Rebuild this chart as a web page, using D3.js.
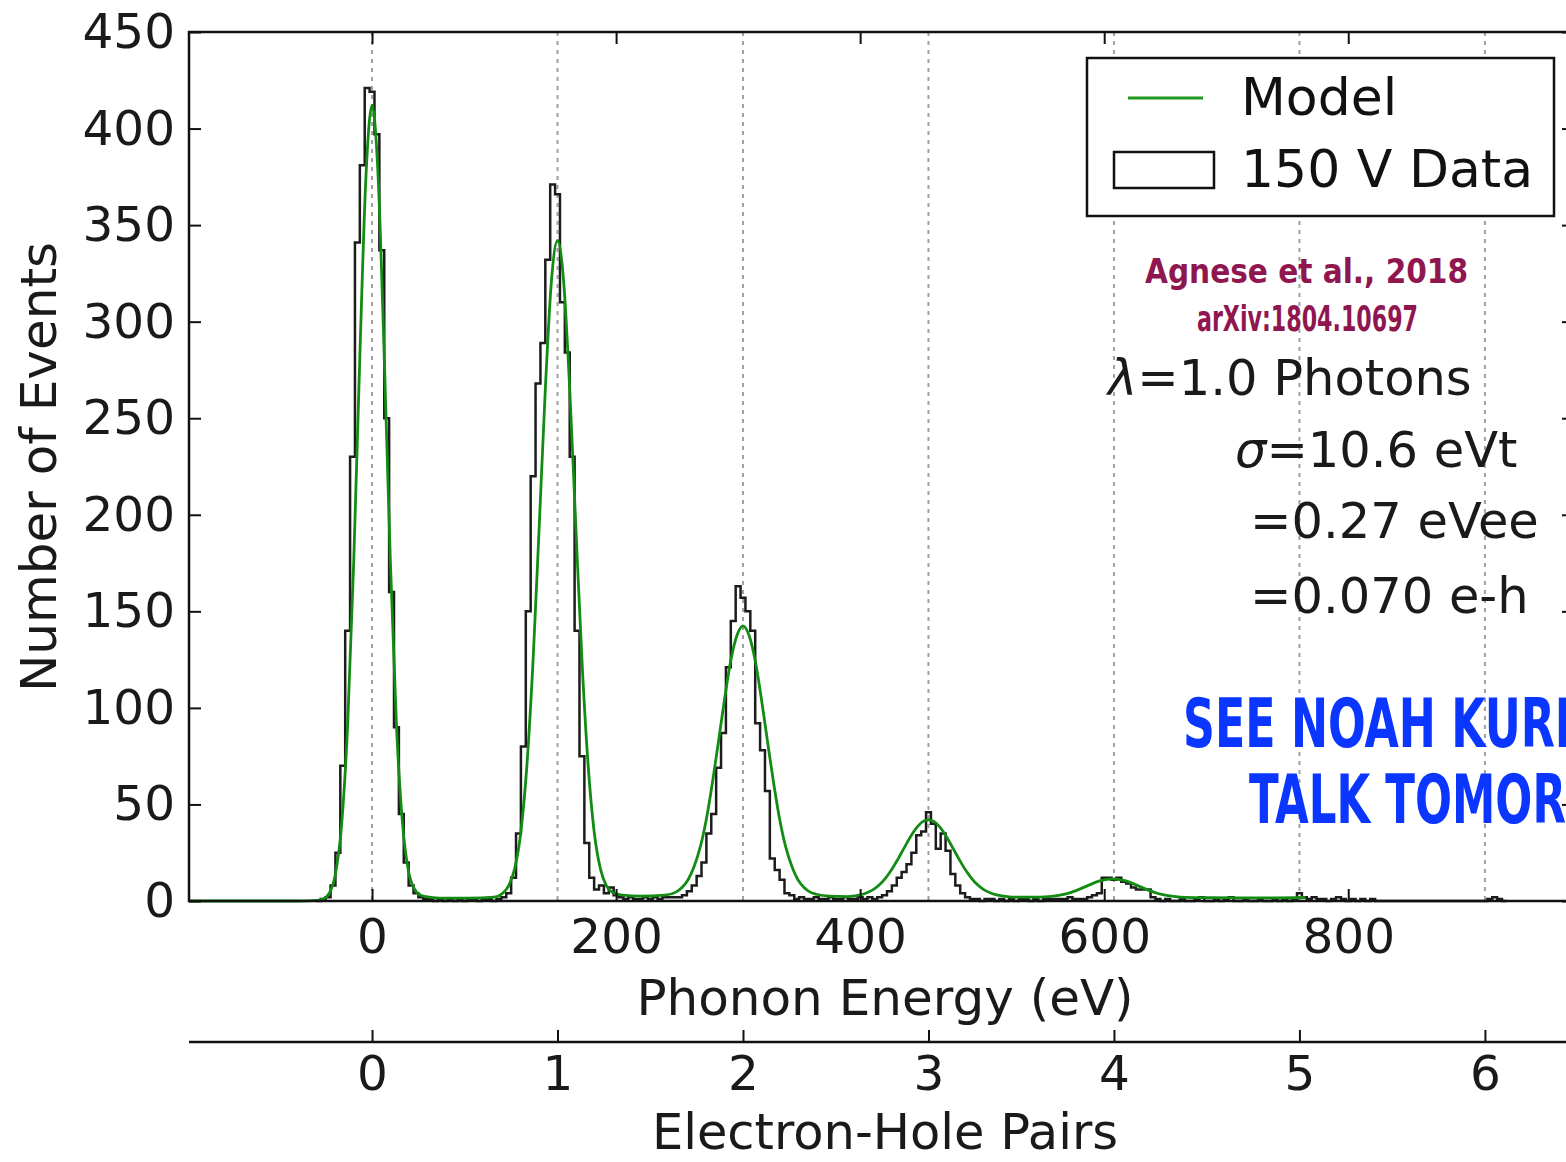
<!DOCTYPE html>
<html><head><meta charset="utf-8">
<script src="https://cdn.jsdelivr.net/npm/d3@7"></script>
<style>body{margin:0;background:#fff;} svg{display:block;}</style>
</head><body>
<svg id="c" width="1566" height="1162"></svg>
<script>
// ---------------- DATA ----------------
const eVDomain = [-150, 985];
const countDomain = [0, 450];
const eVperPair = 152;
const yTicks = [0, 50, 100, 150, 200, 250, 300, 350, 400, 450];
const eVTicks = [0, 200, 400, 600, 800];
const ehTicks = [0, 1, 2, 3, 4, 5, 6];

// histogram "150 V Data": bins of 4 eV starting at -46 eV
const binStart = -46, binWidth = 4;
const dataCounts = [
  0, 1, 2, 8, 25, 70, 140, 230, 341, 381,        // -46 .. -10
  421, 419, 397, 337, 250, 160, 90, 45, 20, 8,    // -6 .. 30
  4, 2, 1, 1, 0, 1, 0, 1, 0, 1,                   // 34 .. 70
  0, 1, 1, 0, 1, 1, 0, 1, 2, 4,                   // 74 .. 110
  12, 35, 80, 150, 220, 268, 289, 332, 371, 366,  // 114 .. 150
  310, 284, 230, 140, 75, 30, 12, 6, 8, 4,        // 154 .. 190
  7, 3, 2, 1, 2, 1, 1, 2, 1, 2,                   // 194 .. 230
  1, 2, 2, 2, 2, 3, 5, 8, 13, 20,                 // 234 .. 270
  35, 45, 69, 87, 121, 145, 163, 157, 150, 140,   // 274 .. 310
  92, 78, 57, 22, 16, 11, 4, 3, 1, 2,             // 314 .. 350
  1, 1, 2, 1, 1, 2, 1, 1, 2, 1,                   // 354 .. 390
  1, 2, 1, 2, 1, 2, 3, 5, 8, 12,                  // 394 .. 430
  15, 19, 25, 34, 36, 46, 40, 27, 35, 26,         // 434 .. 470
  14, 8, 4, 2, 1, 1, 0, 1, 1, 0,                  // 474 .. 510
  1, 0, 1, 0, 1, 1, 0, 1, 0, 1,                   // 514 .. 550
  1, 1, 1, 1, 2, 1, 1, 1, 2, 3,                   // 554 .. 590
  4, 12, 12, 11, 12, 10, 9, 7, 6, 6,              // 594 .. 630
  6, 2, 1, 0, 1, 0, 0, 1, 0, 0,                   // 634 .. 670
  1, 2, 0, 0, 1, 0, 1, 2, 0, 0,                   // 674 .. 710
  1, 0, 0, 1, 0, 0, 1, 0, 1, 0,                   // 714 .. 750
  1, 4, 2, 1, 2, 1, 1, 0, 1, 2,                   // 754 .. 790
  1, 0, 1, 0, 1, 0, 1, 0, 0, 0,                   // 794 .. 830
  0, 0, 0, 0, 0, 0, 0, 0, 0, 0,                   // 834 .. 870
  0, 0, 0, 0, 0, 0, 0, 0, 0, 0,                   // 874 .. 910
  1, 2, 1, 0                                      // 914 .. 926
];

// model curve: energy (eV) and counts
const modelEnergy = [-150,-60,-45,-40,-35,-30,-25,-20,-15,-10,-5,0,5,10,15,20,25,30,35,40,50,60,80,100,
  107,112,117,122,127,132,137,142,147,152,157,162,167,172,177,182,187,192,197,205,220,240,
  249,254,259,264,269,274,279,284,289,294,299,304,309,314,319,324,329,334,339,344,349,354,359,364,375,390,
  396,401,406,411,416,421,426,431,436,441,446,451,456,461,466,471,476,481,486,491,496,501,506,511,516,527,547,
  557,567,577,587,597,607,617,627,637,647,657,667,687,710,740,765];
const modelCounts = [0,0,0.3,1,4,14,39,91,176,282,375,412,375,282,176,91,40,15,6,3,1.8,1.5,1.5,2,
  4,8,17,36,71,125,194,265,321,342,321,265,194,125,71,36,17,8,4.5,3,2.5,3,
  4.6,7,11,18,28,42.5,61.5,83,105,124.5,137.5,142.5,137.5,124.5,105,83,61.5,42.5,28,18,11,7,4.6,3.5,2.5,2.3,
  2.7,3.3,4.4,6,8.5,12,16.4,21.7,27.4,33,37.7,41,42,41,37.7,33,27.4,21.7,16.4,12,8.5,6,4.4,3.3,2.7,2,2,
  2.4,3.4,5.4,8.1,10.5,11.5,10.5,8.1,5.4,3.4,2.4,1.9,1.7,1.6,1.6,1.8];

// ---------------- CHART ----------------
const svg = d3.select("#c");
const FONT = "DejaVu Sans";
const x = d3.scaleLinear().domain(eVDomain).range([189, 1574]);
const y = d3.scaleLinear().domain(countDomain).range([901, 32]);
const eh = d3.scaleLinear().domain([eVDomain[0] / eVperPair, eVDomain[1] / eVperPair]).range([189, 1574]);

svg.append("rect").attr("width", 1566).attr("height", 1162).attr("fill", "#fff");

// dotted gridlines at electron-hole pair positions
svg.append("g").selectAll("line").data(ehTicks).join("line")
  .attr("x1", d => eh(d)).attr("x2", d => eh(d))
  .attr("y1", y(countDomain[1])).attr("y2", y(0))
  .attr("stroke", "#a0a0a0").attr("stroke-width", 2).attr("stroke-dasharray", "4,5");

// histogram steps
const stepPts = [[binStart, 0]];
dataCounts.forEach((c, i) => {
  const e0 = binStart + i * binWidth;
  stepPts.push([e0, c], [e0 + binWidth, c]);
});
stepPts.push([binStart + dataCounts.length * binWidth, 0]);
svg.append("path").datum(stepPts)
  .attr("d", d3.line().x(d => x(d[0])).y(d => y(d[1])))
  .attr("fill", "none").attr("stroke", "#1c1c1c").attr("stroke-width", 2.5).attr("stroke-linejoin", "miter");

// model
const modelPts = modelEnergy.map((e, i) => [e, modelCounts[i]]);
svg.append("path").datum(modelPts)
  .attr("d", d3.line().x(d => x(d[0])).y(d => y(d[1])).curve(d3.curveMonotoneX))
  .attr("fill", "none").attr("stroke", "#138c13").attr("stroke-width", 2.8);

// frame
svg.append("rect").attr("x", 189).attr("y", 32).attr("width", 1574 - 189).attr("height", 901 - 32)
  .attr("fill", "none").attr("stroke", "#111").attr("stroke-width", 2.5);

function styleAxis(g) {
  g.attr("font-family", FONT).attr("font-size", 48.5);
  g.select(".domain").remove();
  g.selectAll(".tick line").attr("stroke", "#111").attr("stroke-width", 2);
  g.selectAll(".tick text").attr("fill", "#1a1a1a");
}
svg.append("g").attr("transform", `translate(0,${y(0)})`)
  .call(d3.axisBottom(x).tickValues(eVTicks).tickSize(-12).tickPadding(18).tickFormat(d3.format("d")))
  .call(styleAxis);
svg.append("g").attr("transform", `translate(0,${y(countDomain[1])})`)
  .call(d3.axisTop(x).tickValues(eVTicks).tickSize(-12).tickFormat(""))
  .call(styleAxis);
svg.append("g").attr("transform", "translate(189,0)")
  .call(d3.axisLeft(y).tickValues(yTicks).tickSize(-12).tickPadding(14))
  .call(styleAxis);
svg.append("g").attr("transform", "translate(1574,0)")
  .call(d3.axisRight(y).tickValues(yTicks).tickSize(-12).tickFormat(""))
  .call(styleAxis);

// electron-hole axis
svg.append("line").attr("x1", 189).attr("x2", 1574).attr("y1", 1042).attr("y2", 1042)
  .attr("stroke", "#111").attr("stroke-width", 2.5);
svg.append("g").attr("transform", "translate(0,1042)")
  .call(d3.axisBottom(eh).tickValues(ehTicks).tickSize(-12).tickPadding(14))
  .call(styleAxis);

// axis labels
svg.append("text").attr("x", 885).attr("y", 1015).attr("text-anchor", "middle")
  .attr("font-family", FONT).attr("font-size", 50).attr("fill", "#1a1a1a").text("Phonon Energy (eV)");
svg.append("text").attr("x", 885).attr("y", 1149).attr("text-anchor", "middle")
  .attr("font-family", FONT).attr("font-size", 49.5).attr("fill", "#1a1a1a").text("Electron-Hole Pairs");
svg.append("text").attr("transform", "translate(56,467) rotate(-90)").attr("text-anchor", "middle")
  .attr("font-family", FONT).attr("font-size", 50).attr("fill", "#1a1a1a").text("Number of Events");

// legend
const lg = svg.append("g");
lg.append("rect").attr("x", 1087).attr("y", 58).attr("width", 467).attr("height", 158)
  .attr("fill", "#fff").attr("stroke", "#111").attr("stroke-width", 2.5);
lg.append("line").attr("x1", 1128).attr("x2", 1203).attr("y1", 98).attr("y2", 98)
  .attr("stroke", "#1f9a1f").attr("stroke-width", 3);
lg.append("rect").attr("x", 1114).attr("y", 152).attr("width", 100).attr("height", 36)
  .attr("fill", "none").attr("stroke", "#111").attr("stroke-width", 2.5);
lg.append("text").attr("x", 1241).attr("y", 115).attr("font-family", FONT).attr("font-size", 52)
  .attr("fill", "#111").text("Model");
lg.append("text").attr("x", 1241).attr("y", 187).attr("font-family", FONT).attr("font-size", 52)
  .attr("fill", "#111").text("150 V Data");

// citation
svg.append("text").attr("x", 1145).attr("y", 283)
  .attr("font-family", "DejaVu Sans Condensed, Liberation Sans Narrow, DejaVu Sans").attr("font-weight", "bold")
  .attr("font-size", 34).attr("fill", "#901650")
  .attr("textLength", 323).attr("lengthAdjust", "spacingAndGlyphs").text("Agnese et al., 2018");
svg.append("text").attr("x", 1197).attr("y", 331)
  .attr("font-family", "DejaVu Sans Condensed, Liberation Sans Narrow, DejaVu Sans").attr("font-weight", "bold")
  .attr("font-size", 35).attr("fill", "#901650")
  .attr("textLength", 221).attr("lengthAdjust", "spacingAndGlyphs").text("arXiv:1804.10697");

// fit annotations
const ann = svg.append("g").attr("font-family", FONT).attr("font-size", 49.5).attr("fill", "#1a1a1a");
const t1 = ann.append("text").attr("x", 1108).attr("y", 395);
t1.append("tspan").attr("font-style", "italic").text("λ");
t1.append("tspan").text("=1.0 Photons");
const t2 = ann.append("text").attr("x", 1235).attr("y", 467);
t2.append("tspan").attr("font-style", "italic").text("σ");
t2.append("tspan").text("=10.6 eVt");
ann.append("text").attr("x", 1250).attr("y", 538).text("=0.27 eVee");
ann.append("text").attr("x", 1250).attr("y", 613).text("=0.070 e-h");

// talk note (runs off the right edge, as in the original slide)
function bigNote(str, x0, yb, prefixLen, prefixWidth) {
  const t = svg.append("text").attr("font-family", "DejaVu Sans Condensed, Liberation Sans Narrow, DejaVu Sans")
    .attr("font-weight", "bold").attr("font-size", 67).attr("fill", "#0a36ff").text(str);
  const w = t.node().getSubStringLength(0, prefixLen);
  t.attr("transform", `translate(${x0},${yb}) scale(${prefixWidth / w},1)`);
}
bigNote("SEE NOAH KURINSKY'S", 1183, 747, 12, 372);
bigNote("TALK TOMORROW", 1249, 823, 10, 317);
</script>
</body></html>
